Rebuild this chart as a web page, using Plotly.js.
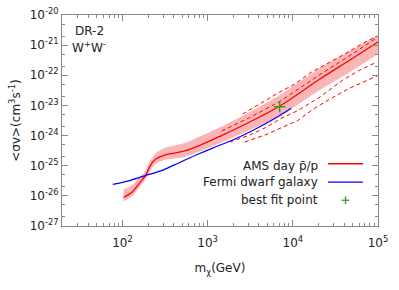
<!DOCTYPE html>
<html><head><meta charset="utf-8">
<script src="https://cdn.plot.ly/plotly-3.0.1.min.js"></script>
<style>html,body{margin:0;padding:0;background:#fff}#chart{width:399px;height:290px}</style>
</head><body><div id="chart"></div>
<script>
// AMS day pbar/p limit (solid) and its band
const amsMass  = [103, 131, 158, 186, 208, 229, 251, 312, 536, 805, 1500, 3120, 7030, 20800, 46900, 100000];
const amsSigma = [8.81e-27, 1.37e-26, 2.61e-26, 4.66e-26, 9.06e-26, 1.38e-25, 1.73e-25, 2.26e-25, 3.08e-25, 4.68e-25, 1.04e-24, 2.82e-24, 9.57e-24, 7.53e-23, 3.21e-22, 1.27e-21];
const bandUpper = [1.62e-26, 2.34e-26, 4.12e-26, 6.82e-26, 1.33e-25, 2.02e-25, 2.74e-25, 3.86e-25, 5.66e-25, 9.31e-25, 2.08e-24, 6.05e-24, 2.22e-23, 1.75e-22, 6.40e-22, 2.17e-21];
const bandLower = [6.49e-27, 1.01e-26, 1.92e-26, 3.43e-26, 6.18e-26, 9.40e-26, 1.18e-25, 1.55e-25, 1.95e-25, 2.96e-25, 6.12e-25, 1.53e-24, 4.46e-24, 3.25e-23, 1.29e-22, 5.08e-22];
// dashed curves
const upperOuterMass  = [2580, 3870, 7030, 10600, 15900, 38700, 61400, 97300];
const upperOuterSigma = [5.19e-24, 1.03e-23, 2.79e-23, 5.14e-23, 1.19e-22, 4.71e-22, 1.01e-21, 2.01e-21];
const upperInnerMass  = [1460, 3120, 7030, 20800, 46900, 97300];
const upperInnerSigma = [1.42e-24, 3.97e-24, 1.35e-23, 1.06e-22, 4.53e-22, 1.79e-21];
const lowerAMass  = [1820, 3120, 4940, 7430, 11200, 20800, 38700, 61400, 97300];
const lowerASigma = [6.11e-25, 1.04e-24, 1.92e-24, 3.83e-24, 6.53e-24, 1.90e-23, 6.97e-23, 1.50e-22, 2.76e-22];
const lowerBMass  = [2730, 5080, 7630, 11200, 16800, 27200, 46900, 97300];
const lowerBSigma = [6.11e-25, 1.13e-24, 1.92e-24, 3.04e-24, 7.05e-24, 1.63e-23, 3.78e-23, 9.46e-23];
// Fermi dwarf galaxy
const fermiMass  = [77, 121, 185, 298, 469, 805, 1146, 1968, 3120, 4944, 7030, 9590];
const fermiSigma = [2.42e-26, 3.23e-26, 4.66e-26, 7.19e-26, 1.28e-25, 2.54e-25, 3.86e-25, 7.13e-25, 1.31e-24, 2.61e-24, 4.63e-24, 8.02e-24];
// best fit
const bestFitMass = [7000];
const bestFitSigma = [9.1e-24];
// ticks
const xTickVals = [1e2, 1e3, 1e4, 1e5];
const xTickText = ['10<sup>2</sup>', '10<sup>3</sup>', '10<sup>4</sup>', '10<sup>5</sup>'];
const yExps = [-27, -26, -25, -24, -23, -22, -21, -20];
const legendLabels = ['AMS day p\u0304/p', 'Fermi dwarf galaxy', 'best fit point'];

const yTickVals = yExps.map(e => Math.pow(10, e));
const yTickText = yExps.map(e => '10<sup>' + (e < 0 ? '-' + (-e) : e) + '</sup>');
const xMinor = []; for (let d = 1; d <= 4; d++) for (let k = 2; k <= 9; k++) xMinor.push(k * Math.pow(10, d));
const yMinor = []; yExps.forEach(e => { yMinor.push(2 * Math.pow(10, e)); yMinor.push(5 * Math.pow(10, e)); });

const RED = '#ff0000', BLUE = '#0000ff', GREEN = '#2e9a2e', PINK = 'rgba(245,120,120,0.55)';
const dashed = {color: RED, width: 1, dash: '4px,3px'};
const traces = [
  {x: amsMass, y: bandLower, mode: 'lines', line: {width: 0, shape: 'spline'}, hoverinfo: 'skip', showlegend: false},
  {x: amsMass, y: bandUpper, mode: 'lines', line: {width: 0, shape: 'spline'}, fill: 'tonexty', fillcolor: PINK, hoverinfo: 'skip', showlegend: false},
  {x: upperOuterMass, y: upperOuterSigma, mode: 'lines', line: dashed, showlegend: false},
  {x: upperInnerMass, y: upperInnerSigma, mode: 'lines', line: dashed, showlegend: false},
  {x: lowerAMass, y: lowerASigma, mode: 'lines', line: dashed, showlegend: false},
  {x: lowerBMass, y: lowerBSigma, mode: 'lines', line: dashed, showlegend: false},
  {x: amsMass, y: amsSigma, mode: 'lines', line: {color: RED, width: 1.3, shape: 'spline'}, showlegend: false},
  {x: fermiMass, y: fermiSigma, mode: 'lines', line: {color: BLUE, width: 1.3, shape: 'spline'}, showlegend: false},
  {x: bestFitMass, y: bestFitSigma, mode: 'markers', marker: {symbol: 'cross-thin', size: 8, line: {color: GREEN, width: 1.5}}, showlegend: false}
];

const FONT = {family: 'DejaVu Sans', size: 12, color: '#222'};
const AX = '#888';
const axisCommon = {type: 'log', showgrid: false, zeroline: false, showline: true, linecolor: AX, linewidth: 1,
  mirror: 'ticks', ticks: 'inside', ticklen: 6, tickcolor: AX, tickmode: 'array', tickfont: FONT};

const legY = [0.283, 0.208, 0.122];
const legX = (320 - 62) / 316;
const sx0 = (328 - 62) / 316, sx1 = (363 - 62) / 316;
const annotations = [
  {xref: 'paper', yref: 'paper', x: 0.036, y: 0.924, xanchor: 'left', yanchor: 'middle', showarrow: false, text: 'DR-2', font: FONT},
  {xref: 'paper', yref: 'paper', x: 0.026, y: 0.85, xanchor: 'left', yanchor: 'middle', showarrow: false, text: 'W<sup>+</sup>W<sup>-</sup>', font: FONT}
].concat(legendLabels.map((t, i) => ({xref: 'paper', yref: 'paper', x: legX, y: legY[i], xanchor: 'right', yanchor: 'middle', showarrow: false, text: t, font: FONT})));
const pcx = (sx0 + sx1) / 2;
const shapes = [
  {type: 'line', xref: 'paper', yref: 'paper', x0: sx0, x1: sx1, y0: legY[0] + 0.012, y1: legY[0] + 0.012, line: {color: RED, width: 1.3}},
  {type: 'line', xref: 'paper', yref: 'paper', x0: sx0, x1: sx1, y0: legY[1], y1: legY[1], line: {color: BLUE, width: 1.3}},
  {type: 'line', xref: 'paper', yref: 'paper', x0: pcx - 0.012, x1: pcx + 0.012, y0: legY[2], y1: legY[2], line: {color: GREEN, width: 1.3}},
  {type: 'line', xref: 'paper', yref: 'paper', x0: pcx, x1: pcx, y0: legY[2] - 0.018, y1: legY[2] + 0.018, line: {color: GREEN, width: 1.3}}
];

const layout = {
  width: 399, height: 290,
  margin: {l: 62, r: 21, t: 15, b: 64},
  paper_bgcolor: '#fff', plot_bgcolor: '#fff',
  font: FONT, showlegend: false,
  xaxis: Object.assign({}, axisCommon, {range: [Math.log10(19.5), 5], tickvals: xTickVals, ticktext: xTickText,
    ticklabelstandoff: 6,
    minor: {tickmode: 'array', tickvals: xMinor, ticks: 'inside', ticklen: 3, tickcolor: AX},
    title: {text: 'm<sub>χ</sub>(GeV)', font: FONT, standoff: 14}}),
  yaxis: Object.assign({}, axisCommon, {range: [-27, -20], tickvals: yTickVals, ticktext: yTickText,
    minor: {tickmode: 'array', tickvals: yMinor, ticks: 'inside', ticklen: 3, tickcolor: AX},
    title: {text: '&lt;σv&gt;(cm<sup>3</sup>s<sup>-1</sup>)', font: FONT, standoff: 6}}),
  annotations: annotations, shapes: shapes
};
Plotly.newPlot('chart', traces, layout, {staticPlot: true, displayModeBar: false});
</script></body></html>
